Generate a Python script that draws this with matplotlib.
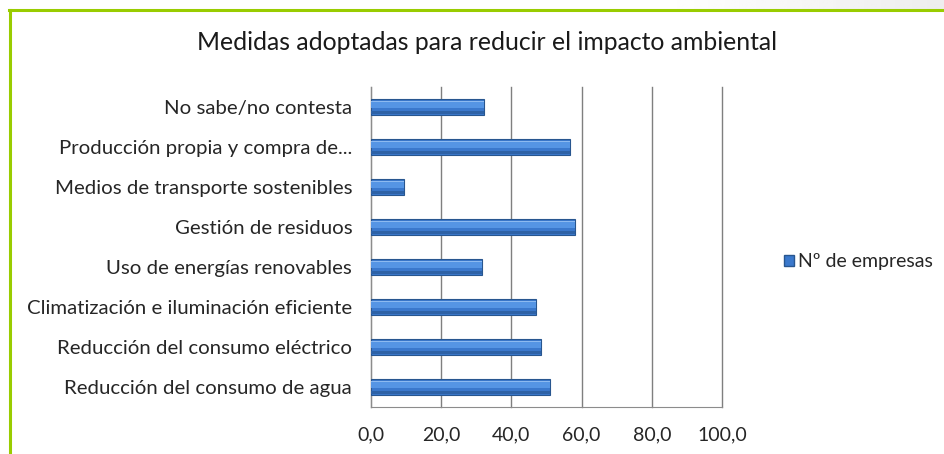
import numpy as np
import matplotlib.pyplot as plt
from matplotlib.lines import Line2D
from matplotlib.patches import Patch

plt.rcParams['font.family'] = ['Lato', 'DejaVu Sans']

categories = ['Reducción del consumo de agua', 'Reducción del consumo eléctrico',
              'Climatización e iluminación eficiente', 'Uso de energías renovables',
              'Gestión de residuos', 'Medios de transporte sostenibles',
              'Producción propia y compra de...', 'No sabe/no contesta']
values = [51.0, 48.4, 47.0, 31.6, 58.2, 9.4, 56.7, 32.3]
xticks = [0, 20, 40, 60, 80, 100]
xticklabels = ['0,0', '20,0', '40,0', '60,0', '80,0', '100,0']
series_name = 'Nº de empresas'

W, H = 945, 454
fig = plt.figure(figsize=(W / 100, H / 100), dpi=100)

# light grey gradient in the top right corner
grad = fig.add_axes([0.7, 1 - 9 / H, 0.3, 9 / H])
grad.imshow(np.linspace(1.0, 0.93, 100).reshape(1, -1), cmap='gray', vmin=0, vmax=1,
            aspect='auto', extent=[0, 1, 0, 1])
grad.axis('off')

ax = fig.add_axes([371 / W, 1 - 407 / H, (722 - 371) / W, (407 - 87) / H])
y = np.arange(len(categories))

ax.barh(y, values, height=0.38, color='#3A78CC', edgecolor='#28568F', linewidth=0.8, zorder=3)
ax.barh(y + 0.05, values, height=0.14, color='#5595E4', linewidth=0, zorder=4)
ax.barh(y + 0.14, values, height=0.04, color='#8CBAF0', linewidth=0, zorder=4)
ax.barh(y - 0.14, values, height=0.06, color='#2E62A6', linewidth=0, zorder=4)

ax.set_xlim(0, 100)
ax.set_ylim(-0.5, len(categories) - 0.5)
ax.set_xticks(xticks)
ax.set_xticklabels(xticklabels, fontsize=14, color='#262626')
ax.set_yticks(y)
ax.set_yticklabels(categories, fontsize=14.7, color='#262626')
ax.tick_params(axis='both', length=0)
ax.tick_params(axis='x', pad=14)
ax.tick_params(axis='y', pad=13.5)
ax.grid(axis='x', color='#7F7F7F', linewidth=1, zorder=0)
for gl in ax.get_xgridlines():
    gl.set_clip_on(False)
for s in ['top', 'right']:
    ax.spines[s].set_visible(False)
for s in ['left', 'bottom']:
    ax.spines[s].set_color('#8C8C8C')

fig.text(487 / W, 1 - 43 / H, 'Medidas adoptadas para reducir el impacto ambiental',
         ha='center', va='center', fontsize=17.8, color='#1A1A1A')

fig.legend(handles=[Patch(facecolor='#3A78CC', edgecolor='#28568F', label=series_name)],
           loc='center left', bbox_to_anchor=(766 / W, 1 - 262 / H), frameon=False,
           fontsize=14, handlelength=0.55, handleheight=0.55, handletextpad=0.2,
           labelcolor='#262626')

# green frame
fig.add_artist(Line2D([9 / W, 1], [1 - 10 / H, 1 - 10 / H], color='#99CC00', linewidth=2.2,
                      transform=fig.transFigure))
fig.add_artist(Line2D([10 / W, 10 / W], [0, 1 - 10 / H], color='#99CC00', linewidth=2.2,
                      transform=fig.transFigure))

fig.savefig('out.png', dpi=100)
